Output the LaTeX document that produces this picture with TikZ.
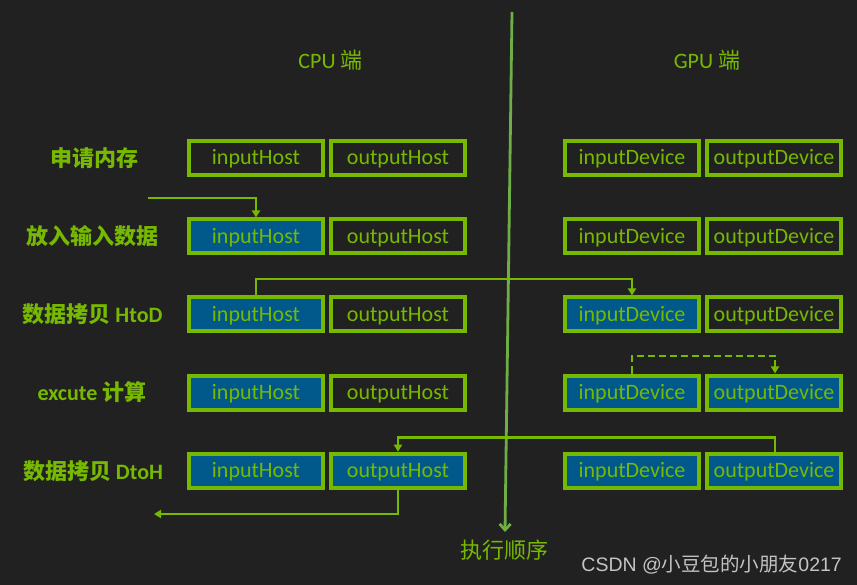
\documentclass[tikz,border=0pt]{standalone}
\usepackage{fontspec}
\setmainfont{Carlito}
\newfontfamily\cjk{Noto Sans CJK SC}
\newfontfamily\wmfont{Liberation Sans}
\usetikzlibrary{arrows.meta}
\definecolor{bg}{HTML}{212121}
\definecolor{nvg}{HTML}{76B900}
\definecolor{axisg}{HTML}{6FAD46}
\definecolor{fillb}{HTML}{00598A}
\definecolor{wm}{HTML}{C4C4C4}
\tikzset{
  membox/.style={draw=nvg, line width=4pt, minimum width=134pt, minimum height=34pt,
    inner sep=0pt, text=nvg, font=\fontsize{22}{25}\selectfont, text height=14pt, text depth=0pt},
  filled/.style={membox, fill=fillb},
  empty/.style={membox, fill=bg},
  rowlabel/.style={text=nvg, font=\fontsize{22}{25}\selectfont\bfseries, inner sep=0pt},
  header/.style={text=nvg, font=\fontsize{22}{25}\selectfont, inner sep=0pt},
  flow/.style={draw=nvg, line width=2.5pt, -{Triangle[length=7pt,width=8pt]}},
  axis/.style={draw=axisg, line width=2.8pt, -{Straight Barb[length=6pt,width=11pt,line width=2.8pt]}}
}
\begin{document}
\begin{tikzpicture}[x=1pt,y=-1pt]
\fill[bg] (0,0) rectangle (857,585);
\useasboundingbox (0,0) rectangle (857,585);

% headers
\node[header] (cpu) at (330.5,60) {CPU {\cjk 端}};
\node[header] (gpu) at (707,60) {GPU {\cjk 端}};

% axis
\coordinate (axtop) at (512,12);
\coordinate (axbot) at (505,532);
\draw[axis] (axtop) -- (axbot);
\node[header] (order) at (504,550) {\cjk 执行顺序};

% row labels
\node[rowlabel] (l1) at (94,158) {\cjk 申请内存};
\node[rowlabel] (l2) at (93,236.5) {\cjk 放入输入数据};
\node[rowlabel] (l3) at (92.5,314.5) {{\cjk 数据拷贝} HtoD};
\node[rowlabel] (l4) at (92,392.5) {excute {\cjk 计算}};
\node[rowlabel] (l5) at (93,470.7) {{\cjk 数据拷贝} DtoH};

% row 1
\node[empty] (ih1) at (256,158) {inputHost};
\node[empty] (oh1) at (398,158) {outputHost};
\node[empty] (id1) at (632,158) {inputDevice};
\node[empty] (od1) at (774,158) {outputDevice};
% row 2
\node[filled] (ih2) at (256,236.5) {inputHost};
\node[empty] (oh2) at (398,236.5) {outputHost};
\node[empty] (id2) at (632,236.5) {inputDevice};
\node[empty] (od2) at (774,236.5) {outputDevice};
% row 3
\node[filled] (ih3) at (256,314.5) {inputHost};
\node[empty] (oh3) at (398,314.5) {outputHost};
\node[filled] (id3) at (632,314.5) {inputDevice};
\node[empty] (od3) at (774,314.5) {outputDevice};
% row 4
\node[filled] (ih4) at (256,392.5) {inputHost};
\node[empty] (oh4) at (398,392.5) {outputHost};
\node[filled] (id4) at (632,392.5) {inputDevice};
\node[filled] (od4) at (774,392.5) {outputDevice};
% row 5
\node[filled] (ih5) at (256,470.7) {inputHost};
\node[filled] (oh5) at (398,470.7) {outputHost};
\node[filled] (id5) at (632,470.7) {inputDevice};
\node[filled] (od5) at (774,470.7) {outputDevice};

% flows
\coordinate (in0) at (148,198);
\draw[flow] (in0) -| (ih2.north);
\draw[flow] (ih3.north) |- (444,279) -| (id3.north);
\draw[flow, dashed, dash pattern=on 7pt off 4pt] (id4.north) |- (700,356) -| ([xshift=1pt]od4.north);
\draw[flow] ([xshift=1pt]od5.north) |- (590,437.5) -| (oh5.north);
\coordinate (out0) at (154,514);
\draw[flow] (oh5.south) |- (out0);

% watermark
\node[text=wm, font=\wmfont\fontsize{19.5}{23}\selectfont, inner sep=0pt, anchor=east] (wmk) at (842,565) {CSDN @{\cjk 小豆包的小朋友}0217};
\end{tikzpicture}
\end{document}
